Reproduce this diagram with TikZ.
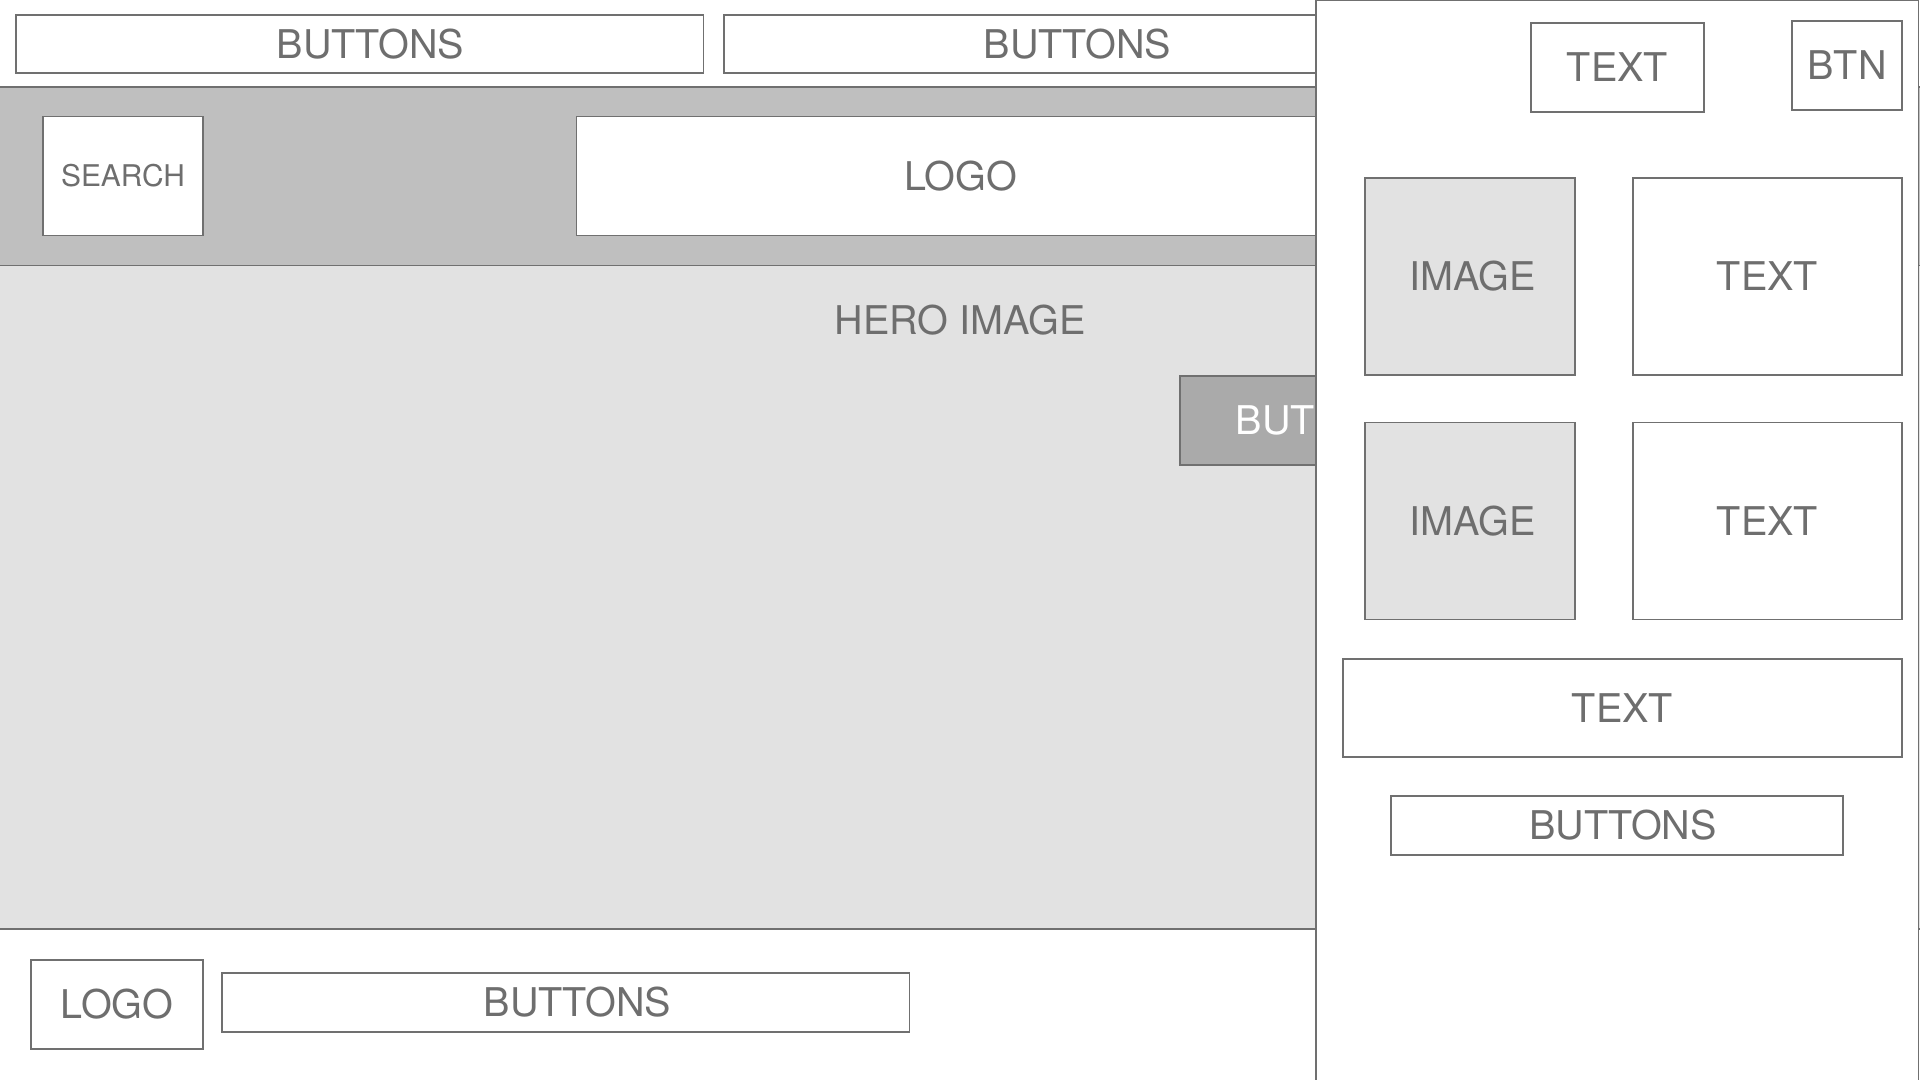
\documentclass[tikz,border=0pt]{standalone}
\usepackage{fontspec}
\setmainfont{TeX Gyre Heros}
\usetikzlibrary{positioning}
\definecolor{wire}{HTML}{707070}
\definecolor{wiretext}{HTML}{6E6E6E}
\definecolor{bandfill}{HTML}{BFBFBF}
\definecolor{imgfill}{HTML}{E2E2E2}
\definecolor{btnfill}{HTML}{AAAAAA}

\begin{document}
\begin{tikzpicture}[x=0.01cm, y=-0.01cm,
  box/.style={draw=wire, line width=0.4pt, fill=white, text=wiretext, inner sep=0pt, font=\fontsize{11.25}{13}\selectfont},
  imgbox/.style={box, fill=imgfill, minimum width=2.1cm, minimum height=1.97cm},
  txtbox/.style={box, minimum width=2.69cm, minimum height=1.97cm},
  bar/.style={box, minimum height=0.58cm}]
  \useasboundingbox (0,0) rectangle (1920,1080);

  \node[bar, minimum width=6.87cm] (topbtnA) at (359.5,44) {\hspace*{0.22cm}BUTTONS};
  \node[bar, minimum width=7.07cm] (topbtnB) at (1077.5,44) {BUTTONS};

  \node[box, fill=bandfill, minimum width=19.2cm, minimum height=1.79cm] (header) at (960,176.5) {};
  \node[box, minimum width=1.6cm, minimum height=1.19cm, font=\fontsize{8.5}{10}\selectfont] (search) at (123,176) {SEARCH};
  \node[box, minimum width=7.67cm, minimum height=1.19cm] (headlogo) at (960.5,176) {LOGO};

  \node[box, fill=imgfill, minimum width=19.2cm, minimum height=6.63cm] (hero) at (960,597.5) {};
  \node[text=wiretext, inner sep=0pt, font=\fontsize{11.25}{13}\selectfont] (herotext) at (960,320) {HERO IMAGE};
  \node[box, fill=btnfill, minimum width=2.72cm, minimum height=0.89cm] (herobtn) at (1316,420.5) {};
  \node[anchor=west, text=white, inner sep=0pt, font=\fontsize{11.25}{13}\selectfont] (herobtntext) at ([xshift=0.56cm] herobtn.west) {BUT};

  \node[box, minimum width=1.72cm, minimum height=0.89cm] (footlogo) at (117,1004.5) {LOGO};
  \node[bar, minimum width=6.87cm, minimum height=0.59cm] (footbtn) at (565.5,1002.5) {\hspace*{0.24cm}BUTTONS};

  \node[box, minimum width=6.025cm, minimum height=10.79cm] (panel) at (1617.25,540.5) {};
  \node[box, minimum width=1.73cm, minimum height=0.89cm] (paneltext) at (1617.5,67.5) {TEXT};
  \node[box, minimum width=1.1cm, minimum height=0.89cm] (panelbtn) at (1847,65.5) {BTN};
  \node[imgbox] (img1) at (1470,276.5) {\hspace*{0.06cm}IMAGE};
  \node[txtbox] (txt1) at (1767.5,276.5) {TEXT};
  \node[imgbox, below=0.46cm of img1] (img2) {\hspace*{0.06cm}IMAGE};
  \node[txtbox, below=0.46cm of txt1] (txt2) {TEXT};
  \node[box, minimum width=5.59cm, minimum height=0.98cm] (panelwide) at (1622.5,708) {TEXT};
  \node[bar, minimum width=4.52cm, minimum height=0.59cm] (panelbuttons) at (1617,825.5) {\hspace*{0.12cm}BUTTONS};
\end{tikzpicture}
\end{document}
